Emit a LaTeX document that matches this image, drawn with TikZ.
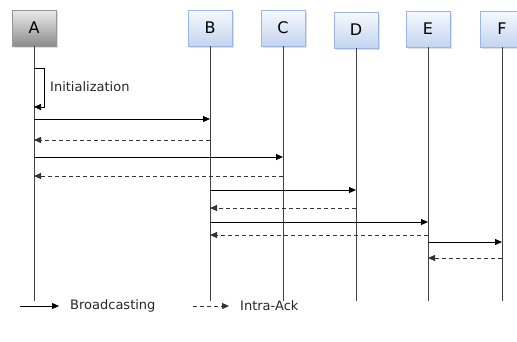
\documentclass[tikz,border=0pt]{standalone}
\usepackage{fontspec}
\setmainfont{DejaVu Sans}
\usetikzlibrary{arrows.meta,shadows}
\begin{document}
\begin{tikzpicture}[x=1pt,y=-1pt,
  actor/.style={minimum width=44pt, minimum height=36pt, inner sep=0pt, font=\fontsize{16}{16}\selectfont, drop shadow={shadow xshift=1.5pt,shadow yshift=-1.5pt,fill=black!25}},
  blueactor/.style={actor, draw={rgb,255:red,155;green,183;blue,224}, top color={rgb,255:red,246;green,249;blue,254}, bottom color={rgb,255:red,196;green,213;blue,240}},
  grayactor/.style={actor, draw={rgb,255:red,150;green,150;blue,150}, top color={rgb,255:red,235;green,235;blue,235}, bottom color={rgb,255:red,140;green,140;blue,140}},
  life/.style={draw=black!75, line width=0.9pt},
  msg/.style={-{Triangle[length=7pt,width=6pt]}, line width=0.8pt},
  ack/.style={msg, dashed, dash pattern=on 4pt off 3pt, draw=black!80},
  lbl/.style={font=\fontsize{13}{13}\selectfont, anchor=west, inner sep=0pt, text=black!85}
]
\useasboundingbox (0,0) rectangle (517,341);
\node[grayactor] (A) at (34,28) {A};
\node[blueactor] (B) at (210,28) {B};
\node[blueactor] (C) at (283,28) {C};
\node[blueactor] (D) at (356,30) {D};
\node[blueactor] (E) at (428,29) {E};
\node[blueactor] (F) at (502,29) {F};
\foreach \n in {A,B,C,D,E,F} {
  \coordinate (\n end) at (\n.south |- 0,301);
  \draw[life] (\n.south) -- (\n end);
}
% initialization loop
\coordinate (i1) at (A.south |- 0,68);
\coordinate (i2) at (A.south |- 0,107);
\draw[msg, line width=0.7pt] (i1) -- ++(10,0) |- (i2);
\node[lbl] (init) at (50,87) {Initialization};
% messages
\foreach \s/\t/\y/\st in {A/B/119/msg, B/A/140/ack, A/C/157/msg, C/A/176/ack, B/D/190/msg, D/B/208/ack, B/E/222/msg, E/B/235/ack, E/F/242/msg, F/E/258/ack} {
  \draw[\st] (\s.south |- 0,\y) -- (\t.south |- 0,\y);
}
% legend
\coordinate (l1s) at (20,306);
\coordinate (l1e) at (59,306);
\draw[msg] (l1s) -- (l1e);
\node[lbl] (bc) at (70,306) {Broadcasting};
\coordinate (l2s) at (193,306);
\coordinate (l2e) at (229,306);
\draw[ack] (l2s) -- (l2e);
\node[lbl] (ia) at (240,306) {Intra-Ack};
\end{tikzpicture}
\end{document}
